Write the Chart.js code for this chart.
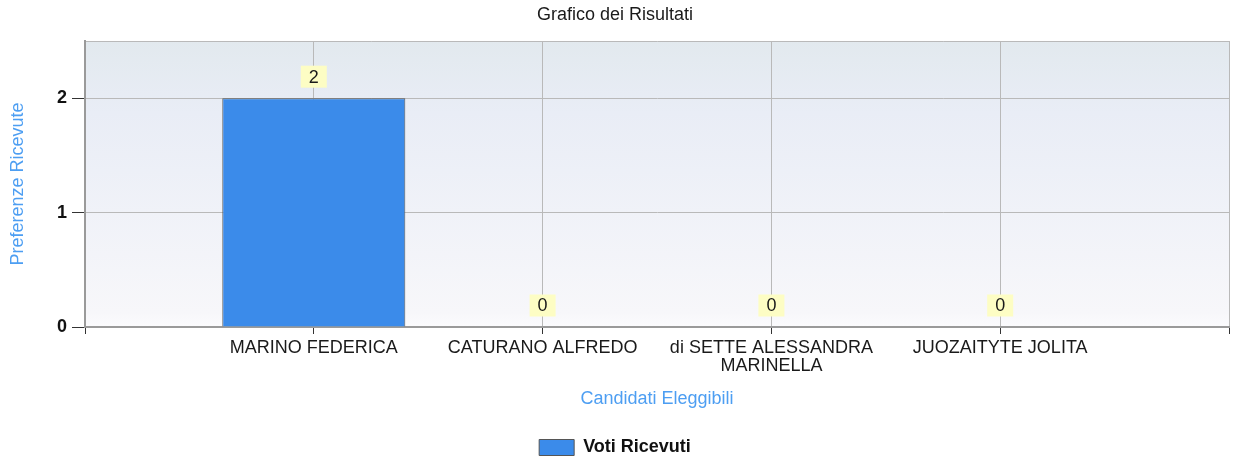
<!DOCTYPE html>
<html lang="it">
<head>
<meta charset="utf-8">
<title>Grafico dei Risultati</title>
<script src="https://cdn.jsdelivr.net/npm/chart.js@4/dist/chart.umd.min.js"></script>
<style>
  html, body { margin: 0; padding: 0; background: #fff; }
  #wrap { width: 1234px; height: 461px; position: relative; }
</style>
</head>
<body>
<div id="wrap"><canvas id="grafico"></canvas></div>
<script>
(function () {
  'use strict';

  // Dati
  const candidati = ['MARINO FEDERICA', 'CATURANO ALFREDO', ['di SETTE ALESSANDRA', 'MARINELLA'], 'JUOZAITYTE JOLITA'];
  const voti = [2, 0, 0, 0];
  const yTicks = [0, 1, 2];
  const yMax = 2.5;

  // Asse X: uno slot vuoto prima e dopo i candidati
  const etichette = [''].concat(candidati, ['']);
  const valori = [null].concat(voti, [null]);

  const FONT = 'Liberation Sans, Arial, sans-serif';
  const SIZE = 18;
  const BLU_TITOLI = '#4d9ef2';
  const PLOT_BOTTOM = 327;
  const PLOT_LEFT = 85;
  const PAD_BOTTOM = -5.5;

  // Sfondo sfumato dell'area del grafico
  const sfondo = {
    id: 'sfondo',
    beforeDraw(chart) {
      const { ctx, chartArea: a } = chart;
      const g = ctx.createLinearGradient(0, a.top, 0, a.bottom);
      g.addColorStop(0, '#e2e9ee');
      g.addColorStop(0.25, '#e9edf6');
      g.addColorStop(0.95, '#f7f7fa');
      g.addColorStop(1, '#fbfbfd');
      ctx.save();
      ctx.fillStyle = g;
      ctx.fillRect(a.left, a.top, a.right - a.left, a.bottom - a.top);
      ctx.restore();
    }
  };

  // Etichette dei valori sopra le barre (riquadro giallo)
  const etichetteValori = {
    id: 'etichetteValori',
    afterDatasetsDraw(chart) {
      const { ctx } = chart;
      const meta = chart.getDatasetMeta(0);
      ctx.save();
      ctx.font = SIZE + 'px ' + FONT;
      ctx.textAlign = 'center';
      ctx.textBaseline = 'middle';
      meta.data.forEach((bar, i) => {
        const v = valori[i];
        if (v === null || v === undefined) return;
        const txt = String(v);
        const w = ctx.measureText(txt).width + 16;
        const h = 22;
        const yb = bar.y - 10.5;
        ctx.fillStyle = '#fdfdc4';
        ctx.fillRect(bar.x - w / 2, yb - h, w, h);
        ctx.fillStyle = '#1a1a1a';
        ctx.fillText(txt, bar.x, yb - h / 2 + 1);
      });
      ctx.restore();
    }
  };

  Chart.defaults.font.family = FONT;
  Chart.defaults.font.size = SIZE;
  Chart.defaults.color = '#1a1a1a';

  new Chart(document.getElementById('grafico'), {
    type: 'bar',
    data: {
      labels: etichette,
      datasets: [{
        label: 'Voti Ricevuti',
        data: valori,
        backgroundColor: '#3b8bea',
        borderColor: '#555',
        borderWidth: 1,
        categoryPercentage: 1,
        barPercentage: 0.8
      }]
    },
    options: {
      responsive: true,
      maintainAspectRatio: false,
      animation: false,
      layout: { padding: { left: 0, right: 4, top: 0, bottom: PAD_BOTTOM } },
      plugins: {
        title: {
          display: true,
          text: 'Grafico dei Risultati',
          color: '#1a1a1a',
          font: { size: SIZE, weight: 'normal', lineHeight: 1.2 },
          padding: { top: 4.5, bottom: 14.9 }
        },
        legend: {
          position: 'bottom',
          labels: {
            boxWidth: 35,
            boxHeight: 16,
            padding: 4,
            color: '#111',
            font: { size: SIZE, weight: 'bold' }
          }
        },
        tooltip: { enabled: false }
      },
      scales: {
        x: {
          offset: false,
          grid: {
            offset: false,
            color: '#b9b9b9',
            tickColor: '#333',
            tickLength: 7
          },
          border: { color: '#9a9a9a', width: 2 },
          ticks: {
            autoSkip: false,
            maxRotation: 0,
            padding: 5,
            color: '#1a1a1a',
            font: { size: SIZE, lineHeight: '18px' }
          },
          title: {
            display: true,
            text: 'Candidati Eleggibili',
            color: BLU_TITOLI,
            font: { size: SIZE },
            padding: { top: 0, bottom: 25 }
          },
          afterFit(s) {
            s.height = s.chart.height - PAD_BOTTOM - s.chart.legend.height - PLOT_BOTTOM;
          }
        },
        y: {
          min: 0,
          max: yMax,
          afterBuildTicks(s) {
            s.ticks = yTicks.concat([yMax]).map(v => ({ value: v }));
          },
          grid: {
            color: '#b9b9b9',
            tickLength: 13,
            tickColor: (c) => (c.tick && Number.isInteger(c.tick.value) ? '#333' : 'rgba(0,0,0,0)')
          },
          border: { color: '#9a9a9a', width: 2 },
          ticks: {
            padding: 5,
            color: '#111',
            font: { size: SIZE, weight: 'bold' },
            callback: (v) => (Number.isInteger(v) ? v : '')
          },
          title: {
            display: true,
            text: 'Preferenze Ricevute',
            color: BLU_TITOLI,
            font: { size: SIZE },
            padding: { top: 7.5, bottom: 0 }
          },
          afterFit(s) {
            s.width = PLOT_LEFT;
          }
        }
      }
    },
    plugins: [sfondo, etichetteValori]
  });
})();
</script>
</body>
</html>
